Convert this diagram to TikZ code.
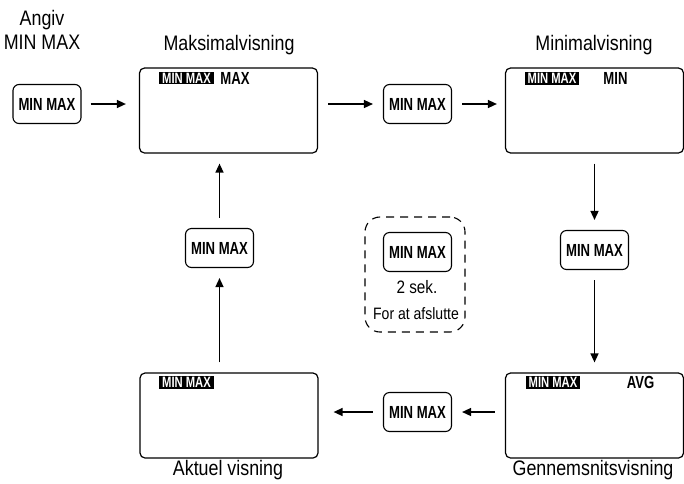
\documentclass[tikz,border=0pt]{standalone}
\usepackage{fontspec}
\setmainfont[FakeStretch=0.85]{Liberation Sans}
\newfontfamily\btnfont[FakeStretch=0.75]{Liberation Sans Bold}
\usetikzlibrary{arrows.meta}
\begin{document}
\begin{tikzpicture}[x=1pt,y=-1pt,
  screen/.style={draw, line width=1.2pt, rounded corners=5pt, minimum width=178pt, minimum height=85pt, inner sep=0pt},
  btn/.style={draw, line width=1.1pt, rounded corners=6pt, minimum width=68pt, minimum height=39pt, inner sep=0pt, font=\btnfont\fontsize{17.5}{17.5}\selectfont},
  badge/.style={fill=black, text=white, inner xsep=3pt, inner ysep=0.8pt, text height=10.6pt, text depth=0pt, font=\btnfont\fontsize{15}{15}\selectfont},
  lcd/.style={inner sep=0pt, text height=11pt, text depth=0pt, font=\btnfont\fontsize{17.5}{17.5}\selectfont},
  title/.style={inner sep=0pt, font=\fontsize{21}{24}\selectfont},
  arr/.style={line width=1.4pt, -{Triangle[length=9pt,width=8pt]}, shorten <=10pt, shorten >=10pt}
]
\useasboundingbox (0,0) rectangle (684,483);

% titles
\node[title, align=center] (angiv) at (42,30) {Angiv\\MIN MAX};
\node[title] (tmaks) at (229,45) {Maksimalvisning};
\node[title] (tmin) at (594,45) {Minimalvisning};
\node[title] (tgen) at (593,470) {Gennemsnitsvisning};
\node[title] (takt) at (228,470) {Aktuel visning};

% screens
\node[screen] (maks) at (228.5,110.5) {};
\node[screen] (minv) at (594.5,110.5) {};
\node[screen] (gen) at (594.5,415.5) {};
\node[screen] (akt) at (229,415.5) {};

% badges and lcd labels
\node[badge] (bmaks) at (186.5,78) {MIN MAX};
\node[lcd] (lmaks) at (235,78.5) {MAX};
\node[badge] (bmin) at (552,78.5) {MIN MAX};
\node[lcd] (lmin) at (615.5,79) {MIN};
\node[badge] (bgen) at (553,382.5) {MIN MAX};
\node[lcd] (lgen) at (640.5,382.5) {AVG};
\node[badge] (bakt) at (186.5,382.5) {MIN MAX};

% buttons
\node[btn] (b1) at (47,104) {MIN MAX};
\node[btn] (b2) at (417.5,104) {MIN MAX};
\node[btn] (b3) at (594.5,250) {MIN MAX};
\node[btn] (b4) at (417.5,412) {MIN MAX};
\node[btn] (b5) at (219.5,248) {MIN MAX};

% end box
\node[draw, dash pattern=on 8pt off 6pt, line width=1.1pt, rounded corners=15pt, minimum width=100pt, minimum height=115pt] (endbox) at (415,274.5) {};
\node[btn] (b6) at (417.5,252) {MIN MAX};
\node[inner sep=0pt, font=\fontsize{18}{18}\selectfont] (sek) at (417,287) {2 sek.};
\node[inner sep=0pt, font=\fontsize{16.5}{16.5}\selectfont] (afs) at (416,314) {For at afslutte};

% arrows
\draw[arr, shorten <=9pt, shorten >=13pt] (b1.east) -- (b1.east -| maks.west);
\draw[arr] (maks.east |- b2.west) -- (b2.west);
\draw[arr, shorten >=8pt] (b2.east) -- (b2.east -| minv.west);
\draw[arr] (minv.south) -- (b3.north);
\draw[arr] (b3.south) -- (gen.north);
\draw[arr] (gen.west |- b4.east) -- (b4.east);
\draw[arr, shorten >=15pt] (b4.west) -- (b4.west -| akt.east);
\draw[arr] (b5.south |- akt.north) -- (b5.south);
\draw[arr] (b5.north) -- (b5.north |- maks.south);
\end{tikzpicture}
\end{document}
